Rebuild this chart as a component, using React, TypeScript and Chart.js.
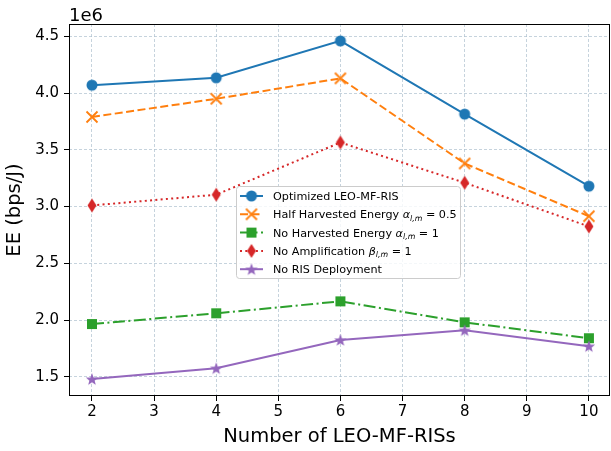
import { useEffect, useRef } from 'react';
import { Chart, registerables } from 'chart.js';

Chart.register(...registerables);

const categories = [2, 4, 6, 8, 10];
const optimized = [4.07, 4.135, 4.46, 3.815, 3.18];
const halfHarvested = [3.79, 3.95, 4.13, 3.38, 2.915];
const noHarvested = [1.965, 2.06, 2.165, 1.98, 1.84];
const noAmplification = [3.01, 3.105, 3.565, 3.21, 2.825];
const noRIS = [1.48, 1.575, 1.825, 1.91, 1.77];
const xTicks = [2, 3, 4, 5, 6, 7, 8, 9, 10];
const yTicks = [1.5, 2.0, 2.5, 3.0, 3.5, 4.0, 4.5];

type Part = { t: string; it?: boolean; sub?: boolean };
const legendLabels: Part[][] = [
  [{ t: 'Optimized LEO-MF-RIS' }],
  [{ t: 'Half Harvested Energy ' }, { t: 'α', it: true }, { t: 'l,m', it: true, sub: true }, { t: ' = 0.5' }],
  [{ t: 'No Harvested Energy ' }, { t: 'α', it: true }, { t: 'l,m', it: true, sub: true }, { t: ' = 1' }],
  [{ t: 'No Amplification ' }, { t: 'β', it: true }, { t: 'l,m', it: true, sub: true }, { t: ' = 1' }],
  [{ t: 'No RIS Deployment' }],
];

const COLORS = ['#1f77b4', '#ff7f0e', '#2ca02c', '#d62728', '#9467bd'];
const DASHES = [[], [8, 3.5], [12, 3.5, 2, 3.5], [2, 3.3], []];
const FONT = '"DejaVu Sans", sans-serif';

function makeMarker(kind: string, color: string): HTMLCanvasElement {
  const c = document.createElement('canvas');
  const S = 16;
  c.width = S;
  c.height = S;
  const g = c.getContext('2d')!;
  const m = S / 2;
  g.fillStyle = color;
  g.strokeStyle = color;
  g.beginPath();
  if (kind === 'circle') {
    g.arc(m, m, 5.5, 0, Math.PI * 2);
    g.fill();
  } else if (kind === 'x') {
    g.lineWidth = 1.8;
    const r = 5.5;
    g.moveTo(m - r, m - r);
    g.lineTo(m + r, m + r);
    g.moveTo(m - r, m + r);
    g.lineTo(m + r, m - r);
    g.stroke();
  } else if (kind === 'square') {
    g.rect(m - 5, m - 5, 10, 10);
    g.fill();
  } else if (kind === 'thindiamond') {
    g.moveTo(m, m - 7);
    g.lineTo(m + 4.5, m);
    g.lineTo(m, m + 7);
    g.lineTo(m - 4.5, m);
    g.closePath();
    g.fill();
  } else if (kind === 'star') {
    const R = 6.5;
    const r = R * 0.42;
    for (let i = 0; i < 10; i++) {
      const rad = i % 2 === 0 ? R : r;
      const a = -Math.PI / 2 + (i * Math.PI) / 5;
      const x = m + rad * Math.cos(a);
      const y = m + 0.6 + rad * Math.sin(a);
      if (i === 0) g.moveTo(x, y);
      else g.lineTo(x, y);
    }
    g.closePath();
    g.fill();
  }
  return c;
}

export default function App() {
  const ref = useRef<HTMLCanvasElement | null>(null);

  useEffect(() => {
    if (!ref.current) return;
    const kinds = ['circle', 'x', 'square', 'thindiamond', 'star'];
    const markers = kinds.map((k, i) => makeMarker(k, COLORS[i]));
    const series = [optimized, halfHarvested, noHarvested, noAmplification, noRIS];

    const decor = {
      id: 'decor',
      afterDatasetsDraw(chart: any) {
        const { ctx, chartArea: a } = chart;
        ctx.save();
        // frame
        ctx.strokeStyle = '#000';
        ctx.lineWidth = 1;
        ctx.setLineDash([]);
        ctx.strokeRect(a.left + 0.5, a.top + 0.5, a.right - a.left - 1, a.bottom - a.top - 1);

        // legend
        const bx = 236.5, by = 186.5, bw = 224, bh = 92, br = 3;
        ctx.beginPath();
        ctx.moveTo(bx + br, by);
        ctx.arcTo(bx + bw, by, bx + bw, by + bh, br);
        ctx.arcTo(bx + bw, by + bh, bx, by + bh, br);
        ctx.arcTo(bx, by + bh, bx, by, br);
        ctx.arcTo(bx, by, bx + bw, by, br);
        ctx.closePath();
        ctx.fillStyle = 'rgba(255,255,255,0.8)';
        ctx.fill();
        ctx.strokeStyle = '#cccccc';
        ctx.lineWidth = 1;
        ctx.stroke();

        const fs = 11.2;
        legendLabels.forEach((parts, i) => {
          const cy = 196 + i * 18.3;
          ctx.strokeStyle = COLORS[i];
          ctx.lineWidth = 2;
          ctx.setLineDash(DASHES[i]);
          ctx.beginPath();
          ctx.moveTo(240, cy);
          ctx.lineTo(263, cy);
          ctx.stroke();
          ctx.setLineDash([]);
          const mk = markers[i];
          ctx.drawImage(mk, 251.5 - mk.width / 2, cy - mk.height / 2);
          let x = 273;
          ctx.fillStyle = '#000';
          ctx.textBaseline = 'alphabetic';
          ctx.textAlign = 'left';
          const base = cy + 4;
          for (const p of parts) {
            const size = p.sub ? fs * 0.7 : fs;
            ctx.font = `${p.it ? 'italic ' : ''}${size}px ${FONT}`;
            ctx.fillText(p.t, x, p.sub ? base + 2.5 : base);
            x += ctx.measureText(p.t).width;
          }
        });
        ctx.restore();
      },
      afterDraw(chart: any) {
        const { ctx, chartArea: a } = chart;
        ctx.save();
        ctx.fillStyle = '#000';
        ctx.textAlign = 'center';
        ctx.textBaseline = 'middle';
        ctx.font = `19.5px ${FONT}`;
        ctx.fillText('Number of LEO-MF-RISs', (a.left + a.right) / 2, 437);
        ctx.save();
        ctx.translate(15, (a.top + a.bottom) / 2);
        ctx.rotate(-Math.PI / 2);
        ctx.fillText('EE (bps/J)', 0, 0);
        ctx.restore();
        ctx.textAlign = 'left';
        ctx.textBaseline = 'alphabetic';
        ctx.font = `18px ${FONT}`;
        ctx.fillText('1e6', a.left, 21);
        ctx.restore();
      },
    };

    const chart = new Chart(ref.current, {
      type: 'line',
      data: {
        datasets: series.map((s, i) => ({
          label: legendLabels[i].map((p) => p.t).join(''),
          data: categories.map((c, j) => ({ x: c, y: s[j] })),
          borderColor: COLORS[i],
          backgroundColor: COLORS[i],
          borderWidth: 2,
          borderDash: DASHES[i],
          pointStyle: markers[i] as any,
          pointRadius: 6,
          pointHoverRadius: 6,
          tension: 0,
          fill: false,
          order: 10 - i,
        })),
      },
      options: {
        responsive: false,
        animation: false,
        devicePixelRatio: 1,
        layout: { autoPadding: false, padding: { top: 24, right: 1, left: 0, bottom: 0 } },
        plugins: { legend: { display: false }, tooltip: { enabled: false } },
        scales: {
          x: {
            type: 'linear',
            min: 1.63,
            max: 10.34,
            afterBuildTicks: (s: any) => {
              s.ticks = xTicks.map((v) => ({ value: v }));
            },
            afterFit: (s: any) => {
              s.height = 55;
              s.paddingLeft = 0;
              s.paddingRight = 0;
            },
            ticks: {
              color: '#000',
              font: { family: FONT, size: 15 },
              padding: 2,
              maxRotation: 0,
              autoSkip: false,
              callback: (v: any) => String(v),
            },
            grid: {
              color: 'rgba(170,190,205,0.85)',
              lineWidth: 0.8,
              tickColor: '#000',
              tickLength: 5,
              tickWidth: 1,
            },
            border: { display: false, dash: [3, 2] },
          },
          y: {
            type: 'linear',
            min: 1.331,
            max: 4.609,
            afterBuildTicks: (s: any) => {
              s.ticks = yTicks.map((v) => ({ value: v }));
            },
            afterFit: (s: any) => {
              s.width = 69;
              s.paddingTop = 0;
              s.paddingBottom = 0;
            },
            ticks: {
              color: '#000',
              font: { family: FONT, size: 15 },
              padding: 5,
              autoSkip: false,
              callback: (v: any) => Number(v).toFixed(1),
            },
            grid: {
              color: 'rgba(170,190,205,0.85)',
              lineWidth: 0.8,
              tickColor: '#000',
              tickLength: 5,
              tickWidth: 1,
            },
            border: { display: false, dash: [3, 2] },
          },
        },
      },
      plugins: [decor],
    });
    return () => chart.destroy();
  }, []);

  return (
    <div style={{ position: 'absolute', left: 0, top: 0, width: 611, height: 451, background: '#fff' }}>
      <canvas ref={ref} width={611} height={451} style={{ display: 'block' }} />
    </div>
  );
}
